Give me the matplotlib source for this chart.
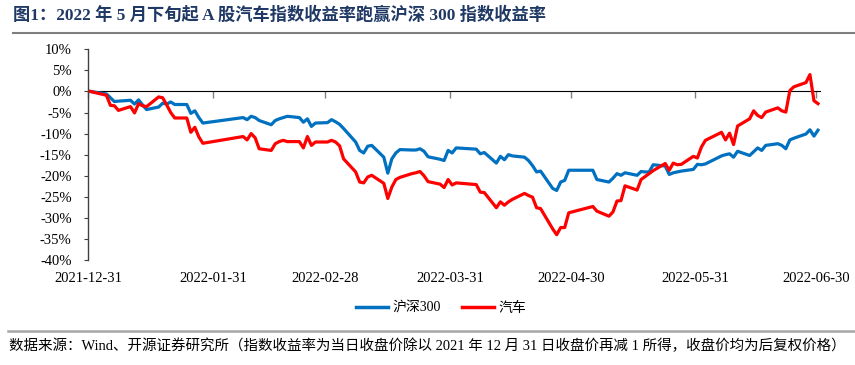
import matplotlib
matplotlib.use('Agg')
import matplotlib.pyplot as plt
import matplotlib.dates as mdates
import pandas as pd
from matplotlib.lines import Line2D

# ---------------- data ----------------
dates = ['2021-12-31',
         '2022-01-04', '2022-01-05', '2022-01-06', '2022-01-07', '2022-01-10', '2022-01-11', '2022-01-12',
         '2022-01-13', '2022-01-14', '2022-01-17', '2022-01-18', '2022-01-19', '2022-01-20', '2022-01-21',
         '2022-01-24', '2022-01-25', '2022-01-26', '2022-01-27', '2022-01-28',
         '2022-02-07', '2022-02-08', '2022-02-09', '2022-02-10', '2022-02-11', '2022-02-14', '2022-02-15',
         '2022-02-16', '2022-02-17', '2022-02-18', '2022-02-21', '2022-02-22', '2022-02-23', '2022-02-24',
         '2022-02-25', '2022-02-28',
         '2022-03-01', '2022-03-02', '2022-03-03', '2022-03-04', '2022-03-07', '2022-03-08', '2022-03-09',
         '2022-03-10', '2022-03-11', '2022-03-14', '2022-03-15', '2022-03-16', '2022-03-17', '2022-03-18',
         '2022-03-21', '2022-03-22', '2022-03-23', '2022-03-24', '2022-03-25', '2022-03-28', '2022-03-29',
         '2022-03-30', '2022-03-31',
         '2022-04-01', '2022-04-06', '2022-04-07', '2022-04-08', '2022-04-11', '2022-04-12', '2022-04-13',
         '2022-04-14', '2022-04-15', '2022-04-18', '2022-04-19', '2022-04-20', '2022-04-21', '2022-04-22',
         '2022-04-25', '2022-04-26', '2022-04-27', '2022-04-28', '2022-04-29',
         '2022-05-05', '2022-05-06', '2022-05-09', '2022-05-10', '2022-05-11', '2022-05-12', '2022-05-13',
         '2022-05-16', '2022-05-17', '2022-05-18', '2022-05-19', '2022-05-20', '2022-05-23', '2022-05-24',
         '2022-05-25', '2022-05-26', '2022-05-27', '2022-05-30', '2022-05-31',
         '2022-06-01', '2022-06-02', '2022-06-06', '2022-06-07', '2022-06-08', '2022-06-09', '2022-06-10',
         '2022-06-13', '2022-06-14', '2022-06-15', '2022-06-16', '2022-06-17', '2022-06-20', '2022-06-21',
         '2022-06-22', '2022-06-23', '2022-06-24', '2022-06-27', '2022-06-28', '2022-06-29', '2022-06-30']

hs300 = [0.0,
         -0.6, -1.5, -2.4, -2.3, -2.1, -3.0, -2.0, -3.2, -4.3, -3.7, -2.8, -3.0, -2.5, -3.1,
         -3.1, -5.2, -4.6, -6.2, -7.5,
         -6.2, -6.7, -5.9, -6.2, -6.9, -7.9, -6.9, -6.5, -6.2, -5.9, -6.2, -7.3, -6.5, -8.3,
         -7.5, -7.4,
         -6.7, -7.2, -7.8, -8.8, -12.0, -14.0, -14.6, -13.0, -12.8, -15.6, -19.4, -16.0, -14.6, -13.8,
         -13.9, -13.9, -13.6, -14.2, -15.5, -16.1, -16.4, -14.0, -14.6,
         -13.4, -13.7, -14.8, -14.5, -17.0, -15.4, -16.2, -15.0, -15.3, -15.6, -16.4, -17.6, -19.1, -18.9,
         -23.0, -23.5, -21.5, -21.1, -18.7,
         -18.7, -20.9, -21.5, -20.6, -19.5, -19.9, -19.3, -19.9, -19.0, -19.1, -19.1, -17.4, -17.7, -19.7,
         -19.3, -19.1, -18.9, -18.5, -17.3,
         -17.4, -17.2, -15.3, -15.0, -14.8, -15.6, -14.2, -15.2, -14.3, -13.4, -14.0, -12.8, -12.4, -12.8,
         -13.6, -11.5, -11.1, -10.1, -9.1, -10.6, -9.2]

auto = [0.0,
        -0.9, -3.3, -3.4, -4.5, -3.6, -5.1, -2.9, -3.4, -3.6, -1.3, -1.5, -3.2, -5.0, -6.3,
        -6.3, -9.7, -8.5, -10.8, -12.3,
        -10.7, -11.5, -10.0, -11.0, -13.6, -14.0, -12.4, -11.9, -11.6, -11.9, -11.9, -13.4, -10.7, -12.8,
        -12.0, -12.0,
        -11.6, -12.0, -12.9, -16.0, -19.1, -21.5, -21.7, -20.3, -19.9, -21.8, -25.4, -22.7, -20.9, -20.4,
        -19.5, -19.3, -19.0, -20.0, -21.4, -22.0, -22.8, -20.9, -22.2,
        -21.7, -22.1, -23.9, -24.0, -27.6, -26.2, -27.0, -26.2, -25.6, -24.2, -24.7, -25.1, -27.6, -27.8,
        -32.6, -34.0, -32.3, -32.3, -28.8,
        -27.3, -28.4, -29.6, -28.6, -26.0, -25.9, -22.4, -23.4, -20.9, -20.2, -19.5, -18.8, -17.1, -18.7,
        -17.0, -17.4, -17.3, -15.4, -15.8,
        -13.2, -11.6, -9.7, -11.5, -9.9, -12.6, -8.2, -6.5, -4.6, -5.7, -6.2, -4.9, -3.9, -4.6,
        -4.9, 0.2, 1.1, 2.1, 4.0, -2.2, -2.9]

series_names = ['沪深300', '汽车']
series_colors = ['#0070C0', '#FF0000']
tick_dates = ['2021-12-31', '2022-01-31', '2022-02-28', '2022-03-31',
              '2022-04-30', '2022-05-31', '2022-06-30']
y_ticks = [-40, -35, -30, -25, -20, -15, -10, -5, 0, 5, 10]
title = '图1：2022 年 5 月下旬起 A 股汽车指数收益率跑赢沪深 300 指数收益率'
source = ('数据来源：Wind、开源证券研究所（指数收益率为当日收盘价除以 2021 年 12 月 31 日'
          '收盘价再减 1 所得，收盘价均为后复权价格）')

# ---------------- style ----------------
serif = ['Liberation Serif', 'Noto Sans CJK SC']
plt.rcParams['font.family'] = serif

W, H = 855, 365
fig = plt.figure(figsize=(W / 100, H / 100), dpi=100)
L, R, T, B = 88.3, 820, 49.3, 260
ax = fig.add_axes([L / W, 1 - B / H, (R - L) / W, (B - T) / H])

x = pd.to_datetime(dates) + pd.Timedelta(hours=12)
for vals, name, col in zip([hs300, auto], series_names, series_colors):
    ax.plot(x, vals, color=col, lw=2.3, label=name, solid_joinstyle='round', zorder=3)

ax.set_xlim(pd.Timestamp('2021-12-31'), pd.Timestamp('2022-07-01'))
ax.set_ylim(-40, 10)

for s in ['top', 'right', 'bottom']:
    ax.spines[s].set_visible(False)
ax.spines['left'].set_color('#404040')
ax.spines['left'].set_linewidth(1.0)

ax.set_yticks(y_ticks)
ax.set_yticklabels([f'{v}%' for v in y_ticks])
ax.tick_params(axis='y', direction='out', length=3, width=0.8, color='#404040',
               labelsize=10.5, pad=9, labelcolor='black')

tick_num = mdates.date2num(pd.to_datetime(tick_dates))
ax.set_xticks(tick_num)
ax.set_xticklabels(tick_dates)
ax.tick_params(axis='x', length=0, pad=9, labelsize=10.5, labelcolor='black')

# zero axis with upward ticks
sec = ax.secondary_xaxis(0.8)
sec.set_xticks(tick_num)
sec.set_xticklabels([])
sec.tick_params(direction='in', length=5, width=1, color='#808080')
sec.spines['bottom'].set_color('black')
sec.spines['bottom'].set_linewidth(1.3)
sec.spines['bottom'].set_zorder(2)

# legend
handles = [Line2D([], [], color=c, lw=2.5) for c in series_colors]
fig.legend(handles, series_names, loc='center', bbox_to_anchor=(441 / W, 1 - 308 / H),
           ncol=2, frameon=False, fontsize=10, handlelength=2.3, handletextpad=0.35,
           columnspacing=1.5)

# title & source
fig.text(13 / W, 1 - 15 / H, title, fontsize=12.4, fontweight='bold', color='#1F3864',
         va='center', ha='left')
fig.add_artist(Line2D([13 / W, 1.0], [1 - 33 / H, 1 - 33 / H], color='#7F7F7F', lw=1.5))
fig.add_artist(Line2D([8 / W, 1.0], [1 - 331 / H, 1 - 331 / H], color='#A6A6A6', lw=1.8))
fig.text(9 / W, 1 - 346 / H, source, fontsize=10.45, color='black', va='center', ha='left')

fig.savefig('out.png', dpi=100)
